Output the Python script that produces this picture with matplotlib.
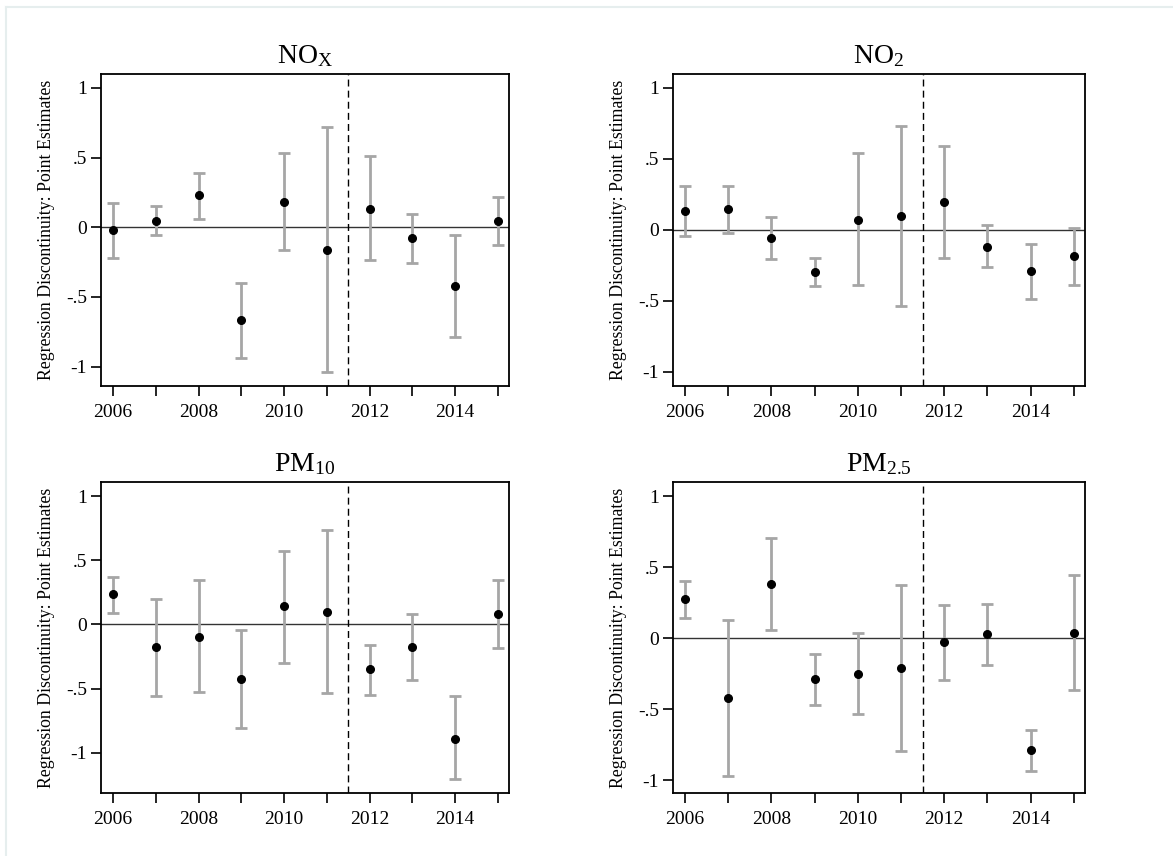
"""
RD point estimates by year, four pollutants
"""

import matplotlib
matplotlib.use('Agg')
from matplotlib import pyplot as plt
from matplotlib.lines import Line2D

plt.rcParams['font.family'] = ['Liberation Serif', 'DejaVu Serif']
plt.rcParams['mathtext.fontset'] = 'custom'
plt.rcParams['mathtext.rm'] = 'Liberation Serif'
plt.rcParams['mathtext.it'] = 'Liberation Serif:italic'

years = [2006, 2007, 2008, 2009, 2010, 2011, 2012, 2013, 2014, 2015]
ytick_vals = [-1, -0.5, 0, 0.5, 1]
ytick_labels = ['-1', '-.5', '0', '.5', '1']
xtick_labels = [2006, 2008, 2010, 2012, 2014]
titles = [r'NO$_{\mathrm{X}}$', r'NO$_{2}$', r'PM$_{10}$', r'PM$_{2.5}$']

# point estimates and 95% bounds
nox_est = [-0.02, 0.048, 0.233, -0.669, 0.182, -0.163, 0.132, -0.079, -0.424, 0.048]
nox_hi = [0.177, 0.149, 0.391, -0.398, 0.535, 0.722, 0.513, 0.098, -0.053, 0.216]
nox_lo = [-0.218, -0.055, 0.062, -0.938, -0.163, -1.038, -0.237, -0.257, -0.787, -0.129]

no2_est = [0.129, 0.146, -0.061, -0.30, 0.070, 0.094, 0.195, -0.12, -0.291, -0.185]
no2_hi = [0.31, 0.31, 0.087, -0.20, 0.54, 0.728, 0.589, 0.031, -0.103, 0.012]
no2_lo = [-0.045, -0.021, -0.209, -0.397, -0.39, -0.538, -0.20, -0.265, -0.488, -0.39]

pm10_est = [0.234, -0.179, -0.096, -0.426, 0.140, 0.096, -0.351, -0.179, -0.891, 0.078]
pm10_hi = [0.371, 0.195, 0.343, -0.042, 0.569, 0.738, -0.161, 0.078, -0.561, 0.343]
pm10_lo = [0.088, -0.561, -0.525, -0.808, -0.299, -0.535, -0.553, -0.434, -1.208, -0.187]

pm25_est = [0.274, -0.417, 0.382, -0.286, -0.253, -0.211, -0.028, 0.028, -0.788, 0.038]
pm25_hi = [0.406, 0.127, 0.703, -0.110, 0.038, 0.375, 0.237, 0.244, -0.647, 0.448]
pm25_lo = [0.143, -0.968, 0.061, -0.467, -0.532, -0.795, -0.291, -0.188, -0.933, -0.366]

ylims = [(-1.14, 1.10), (-1.10, 1.096), (-1.314, 1.11), (-1.088, 1.10)]

W, H = 1173, 856
# axes boxes in pixels: left, top, right, bottom
boxes = [(101, 74, 509, 386), (673, 74, 1085, 386),
         (101, 482, 509, 793), (673, 482, 1085, 793)]


def draw_panel(ax, est, lo, hi, title, ylim):
	yerr = [[e - l for e, l in zip(est, lo)], [h - e for e, h in zip(est, hi)]]
	ax.axhline(0, color='#333333', lw=1.0, zorder=1)
	ax.axvline(2011.5, color='black', lw=1.0, ls=(0, (5, 3)), zorder=1)
	ax.errorbar(years, est, yerr=yerr, fmt='none', ecolor='#a6a6a6',
		elinewidth=2.0, capsize=4, capthick=2.0, zorder=2)
	ax.plot(years, est, 'o', color='black', ms=5.5, zorder=3)
	ax.set_xlim(2005.72, 2015.26)
	ax.set_ylim(*ylim)
	ax.set_xticks(years)
	ax.set_xticklabels([str(y) if y in xtick_labels else '' for y in years])
	ax.set_yticks(ytick_vals)
	ax.set_yticklabels(ytick_labels)
	ax.tick_params(axis='both', direction='out', length=7, width=1.2,
		labelsize=14, color='black')
	ax.tick_params(axis='y', pad=3)
	ax.tick_params(axis='x', pad=6)
	for s in ax.spines.values():
		s.set_linewidth(1.3)
	ax.set_ylabel('Regression Discontinuity: Point Estimates', fontsize=12.8,
		labelpad=8)
	ax.set_title(title, fontsize=20, pad=8)


def make_figure():
	fig = plt.figure(figsize=(W / 100, H / 100), dpi=100)
	fig.patch.set_facecolor('white')
	# faint frame from the source screenshot
	fig.add_artist(Line2D([6 / W, 1], [1 - 7 / H, 1 - 7 / H],
		transform=fig.transFigure, color='#e6eeee', lw=1.5))
	fig.add_artist(Line2D([6 / W, 6 / W], [0, 1 - 7 / H],
		transform=fig.transFigure, color='#e6eeee', lw=1.5))
	series = [(nox_est, nox_lo, nox_hi), (no2_est, no2_lo, no2_hi),
		(pm10_est, pm10_lo, pm10_hi), (pm25_est, pm25_lo, pm25_hi)]
	for box, (est, lo, hi), title, ylim in zip(boxes, series, titles, ylims):
		l, t, r, b = box
		ax = fig.add_axes([l / W, 1 - b / H, (r - l) / W, (b - t) / H])
		draw_panel(ax, est, lo, hi, title, ylim)
	fig.savefig('out.png', dpi=100)


if __name__ == '__main__':
	make_figure()
